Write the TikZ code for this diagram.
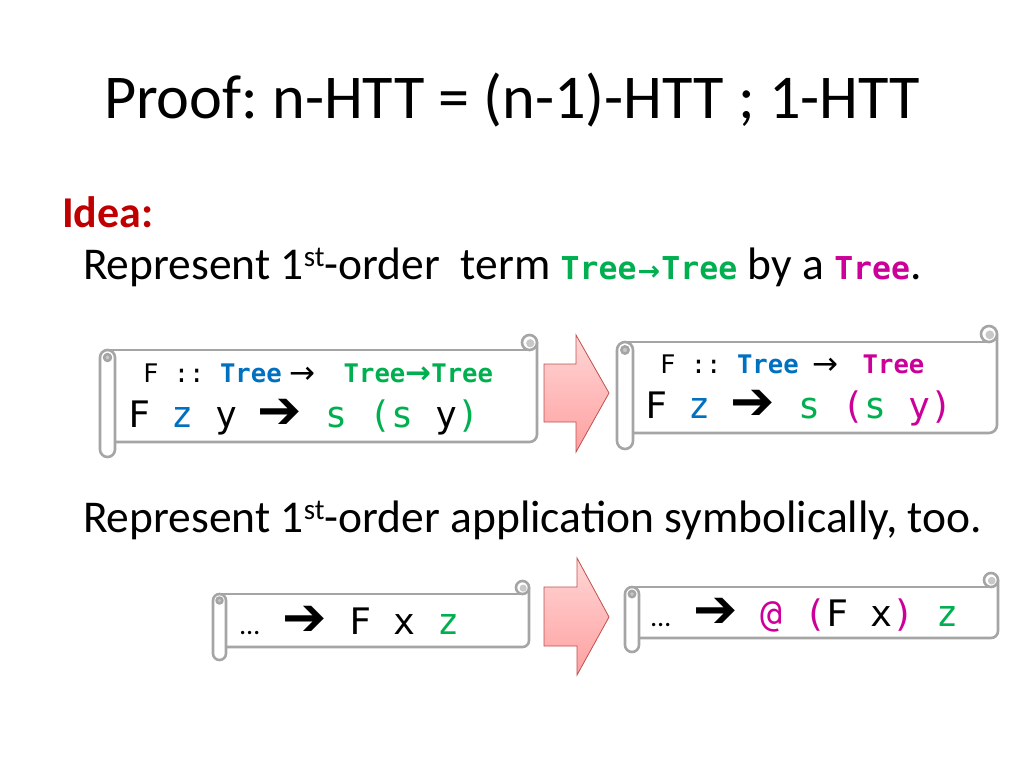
\documentclass[tikz,border=0pt]{standalone}
\usepackage{fontspec}
\setmainfont{Carlito}
\newfontfamily\mono[WordSpace={1,0,0}]{DejaVu Sans Mono}
\newfontfamily\arrfont{DejaVu Sans}
\definecolor{tblue}{HTML}{0070C0}
\definecolor{tgreen}{HTML}{00B050}
\definecolor{tmag}{HTML}{CC0099}
\definecolor{tred}{HTML}{C00000}
\definecolor{scrollgray}{RGB}{165,165,165}
\definecolor{curlgray}{RGB}{200,200,200}
\definecolor{pinktop}{RGB}{255,214,214}
\definecolor{pinkbot}{RGB}{255,160,160}
\definecolor{arrowedge}{RGB}{192,80,77}
\newcommand\codeA{\mono\fontsize{25.6}{30}\selectfont}
\newcommand\codeB{\mono\fontsize{36.5}{40}\selectfont}
\newcommand\bigarr{\makebox[44pt][l]{\hspace{-2pt}{\arrfont\fontsize{53}{53}\selectfont\raisebox{-1pt}{➔}}}}
\newcommand\thinarr{{\arrfont\fontsize{31}{31}\selectfont\raisebox{-1.5pt}{→}}}
\newcommand\dotsbox{\makebox[44pt][l]{{\rmfamily\fontsize{28}{28}\selectfont …}}}
\newcommand\supr[1]{\raisebox{12.5pt}{\fontsize{29}{29}\selectfont #1}}
\tikzset{
  txt/.style={anchor=base west, inner sep=0pt, outer sep=0pt},
  scrollline/.style={draw=scrollgray, line width=2.6pt, line cap=round, line join=round},
  blockarrow/.style={draw=arrowedge, line width=0.8pt, top color=pinktop, bottom color=pinkbot, line join=miter},
}
\newcommand\drawscroll[5]{%
  \pgfmathsetmacro\sL{#1}\pgfmathsetmacro\sT{#2}\pgfmathsetmacro\sR{#3}%
  \pgfmathsetmacro\sB{#4}\pgfmathsetmacro\sC{#5}\pgfmathsetmacro\sH{#5/2}%
  \pgfmathsetmacro\bT{#2+#5}\pgfmathsetmacro\bB{#4-#5}%
  \fill[white] (\sL+\sH,\bT) rectangle (\sR,\bB);
  \draw[scrollline] (\sL+\sH,\bT) -- (\sR-\sH,\bT);
  \draw[scrollline] (\sR,\sT+\sH) -- (\sR,\bB-\sH) arc[start angle=0,end angle=90,radius=\sH] -- (\sL+\sC,\bB);
  \draw[scrollline, fill=white] (\sR-\sH,\sT+\sH) circle[radius=\sH];
  \fill[curlgray] (\sR-\sH*0.9,\sT+\sH*1.1) circle[radius=\sH*0.55];
  \draw[scrollline, fill=white, rounded corners=\sH pt] (\sL,\bT) rectangle (\sL+\sC,\sB);
  \draw[scrollline, fill=curlgray] (\sL+\sH,\bT+\sH) circle[radius=\sH*0.45];
}
\frenchspacing
\begin{document}
\begin{tikzpicture}[x=1pt,y=-1pt]
\useasboundingbox (0,0) rectangle (1024,768);
\fill[white] (0,0) rectangle (1024,768);

% title and text
\node[txt] (title) at (104,118) {\fontsize{62.3}{70}\selectfont Proof: n-HTT = (n-1)-HTT ; 1-HTT};
\node[txt] (idea) at (62,227) {\fontsize{44}{50}\selectfont\bfseries\color{tred}Idea:};
\node[txt] (line1) at (83,279) {\fontsize{45.5}{50}\selectfont Represent 1\supr{st}-order\ \ term {\mono\bfseries\fontsize{31.5}{36}\selectfont\color{tgreen}Tree\makebox[25pt]{\arrfont\bfseries\fontsize{27}{27}\selectfont\raisebox{-1pt}{→}}Tree} by a {\mono\bfseries\fontsize{31.5}{36}\selectfont\color{tmag}Tree}.};
\node[txt] (line2) at (83,532) {\fontsize{45.5}{50}\selectfont Represent 1\supr{st}-order application symbolically, too.};

% scrolls
\drawscroll{100}{335}{537}{457}{15}
\drawscroll{617}{326}{997}{449}{16}
\drawscroll{213}{581}{529}{660}{13}
\drawscroll{625}{573}{998}{652}{14}

% block arrows
\draw[blockarrow] (544,364) -- (576,364) -- (576,335) -- (609,393) -- (576,452) -- (576,422) -- (544,422) -- cycle;
\draw[blockarrow] (544,587) -- (577,587) -- (577,558) -- (609,617) -- (577,675) -- (577,646) -- (544,646) -- cycle;

% scroll A
\node[txt] (a1) at (143,382) {\codeA F :: {\bfseries\color{tblue}Tree}\makebox[62pt][l]{\hspace{8pt}\thinarr}{\bfseries\color{tgreen}Tree\makebox[26pt]{\thinarr}Tree}};
\node[txt] (a2) at (128,427) {\codeB F {\color{tblue}z} y \bigarr{} {\color{tgreen}s (s} y{\color{tgreen})}};
% scroll B
\node[txt] (b1) at (660,373) {\codeA F :: {\bfseries\color{tblue}Tree}\makebox[64pt][l]{\hspace{14pt}\thinarr}{\bfseries\color{tmag}Tree}};
\node[txt] (b2) at (645,418) {\codeB F {\color{tblue}z} \bigarr{} {\color{tgreen}s} {\color{tmag}(}{\color{tgreen}s} {\color{tmag}y)}};
% scroll C
\node[txt] (c1) at (240,634) {\codeB\dotsbox\bigarr{} F x {\color{tgreen}z}};
% scroll D
\node[txt] (d1) at (651,626) {\codeB\dotsbox\bigarr{} {\color{tmag}@ (}F x{\color{tmag})} {\color{tgreen}z}};
\end{tikzpicture}
\end{document}
